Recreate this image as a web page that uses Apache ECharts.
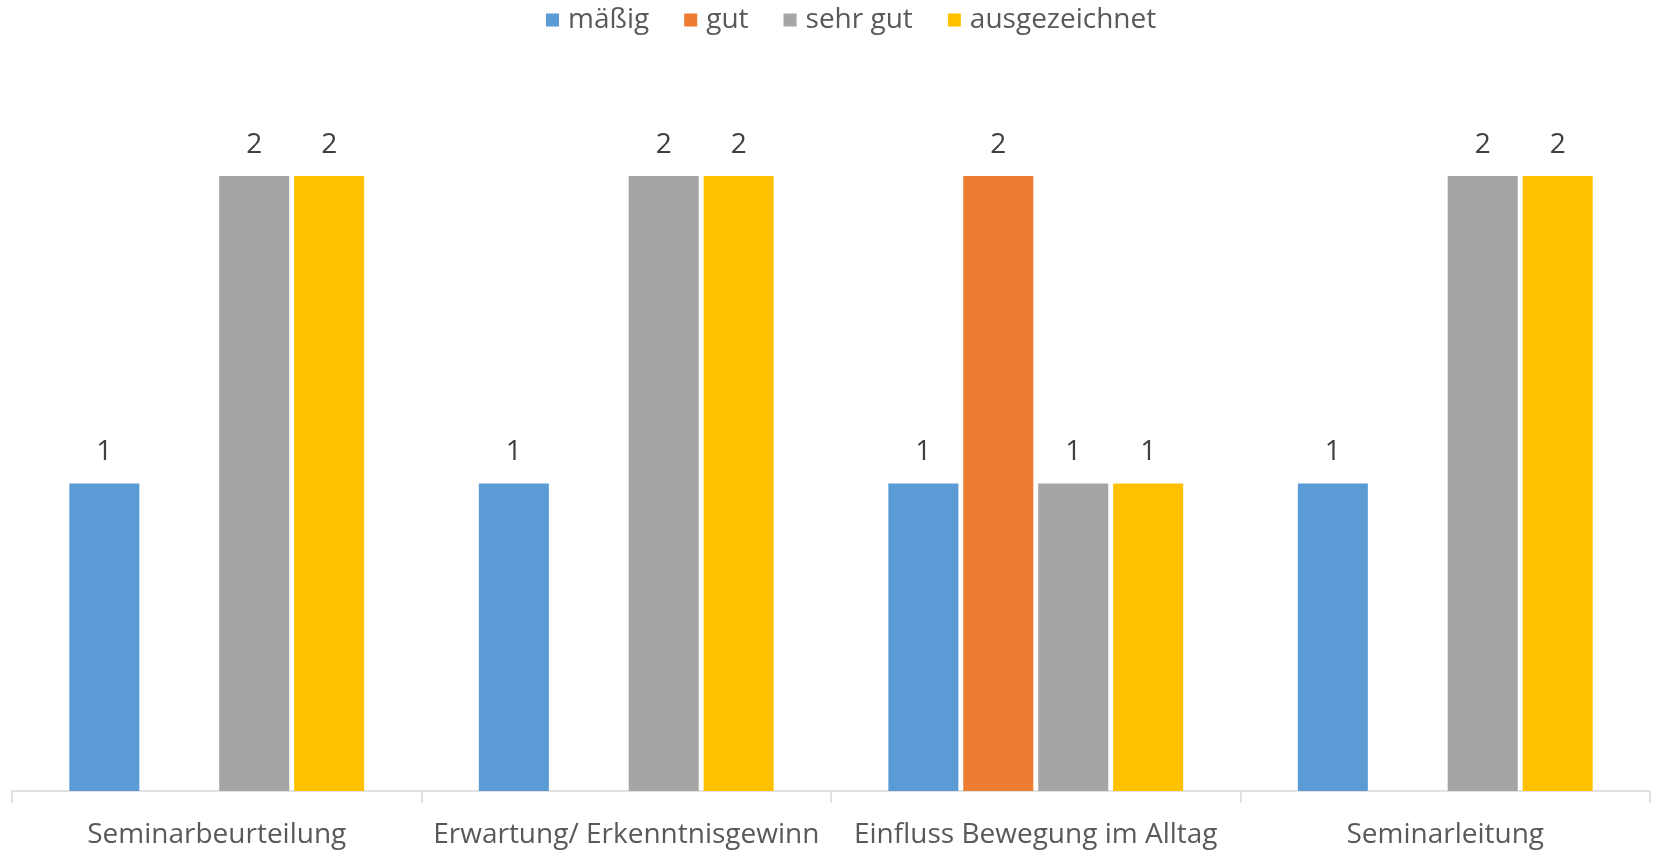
<!DOCTYPE html>
<html>
<head>
<meta charset="utf-8">
<script src="https://cdn.jsdelivr.net/npm/echarts@6/dist/echarts.min.js"></script>
<style>
  html, body { margin: 0; padding: 0; background: #fff; }
  #chart { width: 1660px; height: 852px; }
</style>
</head>
<body>
<div id="chart"></div>
<script>
// Survey ratings per seminar topic
const categories = ['Seminarbeurteilung', 'Erwartung/ Erkenntnisgewinn', 'Einfluss Bewegung im Alltag', 'Seminarleitung'];
const seriesNames = ['mäßig', 'gut', 'sehr gut', 'ausgezeichnet'];
const maessig = [1, 1, 1, 1];
const gut = [null, null, 2, null];
const sehrGut = [2, 2, 1, 2];
const ausgezeichnet = [2, 2, 1, 2];
const colors = ['#5b9bd5', '#ed7d31', '#a5a5a5', '#ffc000'];

const textColor = '#595959';
const fontFamily = '"Open Sans", "Noto Sans", sans-serif';

const chart = echarts.init(document.getElementById('chart'));
const values = [maessig, gut, sehrGut, ausgezeichnet];

chart.setOption({
  animation: false,
  color: colors,
  legend: {
    top: 1,
    left: 541,
    itemWidth: 13,
    itemHeight: 13,
    itemGap: 35,
    icon: 'rect',
    textStyle: { color: textColor, fontSize: 28, fontFamily: fontFamily, padding: [0, 0, 0, 4] }
  },
  grid: { left: 12, right: 10, top: 176, bottom: 61 },
  xAxis: {
    type: 'category',
    data: categories,
    axisLine: { lineStyle: { color: '#d9d9d9', width: 1.5 } },
    axisTick: { show: true, length: 12, lineStyle: { color: '#d9d9d9', width: 1.5 } },
    axisLabel: { color: textColor, fontSize: 28, fontFamily: fontFamily, margin: 30, interval: 0 }
  },
  yAxis: {
    type: 'value',
    min: 0,
    max: 2,
    show: false,
    splitLine: { show: false }
  },
  series: values.map((v, i) => ({
    name: seriesNames[i],
    type: 'bar',
    data: v,
    barGap: '7%',
    barCategoryGap: '28%',
    itemStyle: { color: colors[i] },
    label: {
      show: true,
      position: 'top',
      distance: 17,
      color: '#404040',
      fontSize: 28,
      fontFamily: fontFamily
    }
  }))
});
</script>
</body>
</html>
